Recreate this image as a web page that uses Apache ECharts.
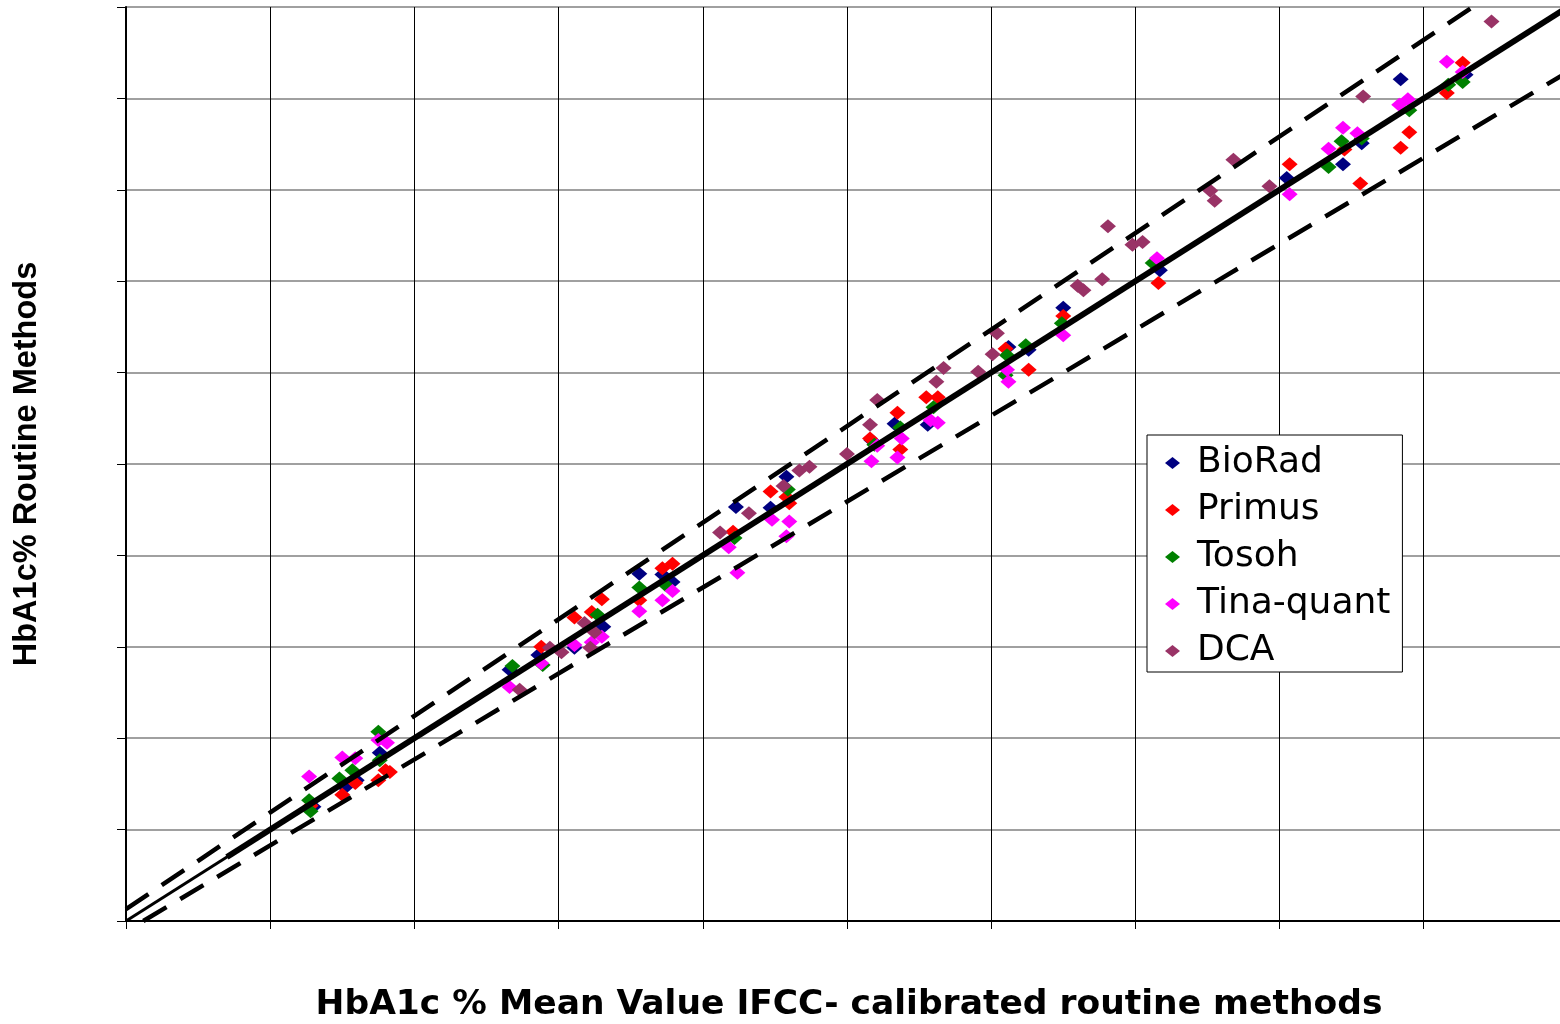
<!DOCTYPE html>
<html>
<head>
<meta charset="utf-8">
<title>HbA1c routine methods vs IFCC-calibrated mean</title>
<script src="https://cdn.jsdelivr.net/npm/echarts@6/dist/echarts.min.js"></script>
<style>
  html, body { margin: 0; padding: 0; background: #fff; }
  #chart { width: 1560px; height: 1024px; }
</style>
</head>
<body>
<div id="chart"></div>
<script>
// values: [mean IFCC-calibrated, routine method] in HbA1c %
const bioRad = [[5.30,5.25],[5.52,5.46],[5.60,5.54],[5.76,5.84],[6.66,6.75],[6.86,6.91],[7.11,6.99],[7.31,7.22],[7.56,7.80],[7.72,7.79],[7.79,7.71],[8.23,8.53],[8.47,8.52],[8.58,8.86],[9.17,9.26],[9.33,9.44],[9.56,9.43],[10.12,10.28],[10.26,10.25],[10.50,10.71],[11.17,11.12],[12.05,12.13],[12.44,12.28],[12.57,12.51],[12.84,13.21],[13.29,13.26]];
const primus = [[5.28,5.26],[5.50,5.38],[5.59,5.51],[5.75,5.54],[5.80,5.65],[5.83,5.63],[6.88,7.00],[7.11,7.32],[7.23,7.38],[7.30,7.52],[7.56,7.51],[7.72,7.86],[7.79,7.91],[8.21,8.26],[8.47,8.70],[8.58,8.64],[8.60,8.57],[9.16,9.28],[9.35,9.56],[9.37,9.16],[9.55,9.73],[9.63,9.73],[10.10,10.26],[10.26,10.03],[10.50,10.62],[11.16,10.98],[12.07,12.28],[12.45,12.44],[12.56,12.07],[12.84,12.46],[12.90,12.63],[13.16,13.06],[13.27,13.39]];
const tosoh = [[5.27,5.32],[5.28,5.20],[5.48,5.56],[5.57,5.65],[5.75,6.07],[5.76,5.76],[6.68,6.79],[6.89,6.80],[7.27,7.35],[7.56,7.65],[7.74,7.68],[8.22,8.19],[8.59,8.72],[9.19,9.21],[9.37,9.40],[9.60,9.62],[10.11,10.19],[10.10,9.97],[10.24,10.30],[10.49,10.54],[11.12,11.20],[12.34,12.25],[12.43,12.53],[12.57,12.56],[12.90,12.87],[13.17,13.15],[13.27,13.18]];
const tinaQuant = [[5.27,5.58],[5.50,5.79],[5.59,5.78],[5.75,5.98],[5.81,5.95],[6.66,6.56],[6.88,6.82],[7.11,7.02],[7.30,7.11],[7.23,7.05],[7.56,7.39],[7.72,7.51],[7.79,7.61],[8.18,8.09],[8.24,7.81],[8.48,8.39],[8.60,8.37],[8.58,8.21],[9.21,9.20],[9.17,9.03],[9.38,9.28],[9.35,9.07],[9.58,9.48],[9.63,9.45],[10.11,10.03],[10.12,9.90],[10.50,10.41],[11.15,11.25],[12.07,11.95],[12.34,12.45],[12.44,12.68],[12.54,12.62],[12.83,12.93],[12.89,12.99],[13.16,13.40],[13.27,13.29]];
const dca = [[6.73,6.53],[6.94,6.99],[7.02,6.94],[7.18,7.26],[7.25,7.16],[7.22,6.99],[8.12,8.25],[8.32,8.46],[8.56,8.76],[8.67,8.93],[8.74,8.97],[9.00,9.11],[9.16,9.43],[9.21,9.70],[9.62,9.90],[9.67,10.05],[9.91,10.01],[10.01,10.20],[10.04,10.43],[10.60,10.95],[10.64,10.90],[10.77,11.02],[10.81,11.60],[10.98,11.40],[11.05,11.43],[11.52,11.99],[11.55,11.88],[11.68,12.33],[11.93,12.04],[12.58,13.02],[13.47,13.84]];

// reference lines: line of identity, fitted line, upper and lower limits
const identity = [[4, 4], [14, 14]];
const fitted = [[4.7, 4.7], [14, 14]];
const upperLimit = [[4, 4.13], [13.34, 14]];
const lowerLimit = [[4.12, 4], [14, 13.29]];

const SERIES = [
  { name: 'BioRad', data: bioRad, color: '#000080' },
  { name: 'Primus', data: primus, color: '#ff0000' },
  { name: 'Tosoh', data: tosoh, color: '#008000' },
  { name: 'Tina-quant', data: tinaQuant, color: '#ff00ff' },
  { name: 'DCA', data: dca, color: '#993366' },
];

const chart = echarts.init(document.getElementById('chart'));

const lineSeries = (data, width, dashed) => ({
  type: 'line', data, symbol: 'none', silent: true, z: 5, clip: true,
  lineStyle: { color: '#000', width, type: dashed ? [27, 16] : 'solid', cap: 'butt' },
});

chart.setOption({
  animation: false,
  backgroundColor: '#fff',
  grid: { left: 126, right: 0, top: 7, bottom: 103, containLabel: false, outerBoundsMode: 'none' },
  legend: {
    orient: 'vertical', left: 1147, top: 435,
    data: SERIES.map(s => s.name),
    backgroundColor: '#fff', borderColor: '#000', borderWidth: 1,
    padding: [8, 12, 1, 18], itemGap: 7,
    itemWidth: 15, itemHeight: 12, icon: 'diamond',
    textStyle: { fontFamily: 'DejaVu Sans', fontSize: 36, color: '#000', lineHeight: 40, padding: [0, 0, 0, 12] },
  },
  xAxis: {
    type: 'value', min: 4, max: 13.945, interval: 1,
    name: 'HbA1c % Mean Value IFCC- calibrated routine methods',
    nameLocation: 'middle', nameGap: 67,
    nameTextStyle: { fontFamily: 'DejaVu Sans', fontWeight: 'bold', fontSize: 34.5, color: '#000', padding: [0, 0, 0, 12] },
    axisLine: { onZero: false, lineStyle: { color: '#000', width: 2 } },
    axisTick: { show: true, length: 8, inside: false, lineStyle: { color: '#000', width: 1 } },
    axisLabel: { show: false },
    splitLine: { show: true, lineStyle: { color: '#000', width: 1 } },
  },
  yAxis: {
    type: 'value', min: 4, max: 14, interval: 1,
    name: 'HbA1c% Routine Methods',
    nameLocation: 'middle', nameGap: 82, nameRotate: 90,
    nameTextStyle: { fontFamily: 'Liberation Sans', fontWeight: 'bold', fontSize: 32.5, color: '#000' },
    axisLine: { show: true, onZero: false, lineStyle: { color: '#000', width: 2 } },
    axisTick: { show: true, length: 9, inside: false, lineStyle: { color: '#000', width: 1 } },
    axisLabel: { show: false },
    splitLine: { show: true, lineStyle: { color: '#808080', width: 1.5 } },
  },
  series: [
    ...SERIES.map(s => ({
      name: s.name, type: 'scatter', data: s.data, symbol: 'diamond', symbolSize: [16, 14],
      itemStyle: { color: s.color, opacity: 1 }, z: 2,
    })),
    lineSeries(identity, 3, false),
    lineSeries(fitted, 6, false),
    lineSeries(upperLimit, 4.5, true),
    lineSeries(lowerLimit, 4.5, true),
  ],
});
</script>
</body>
</html>
